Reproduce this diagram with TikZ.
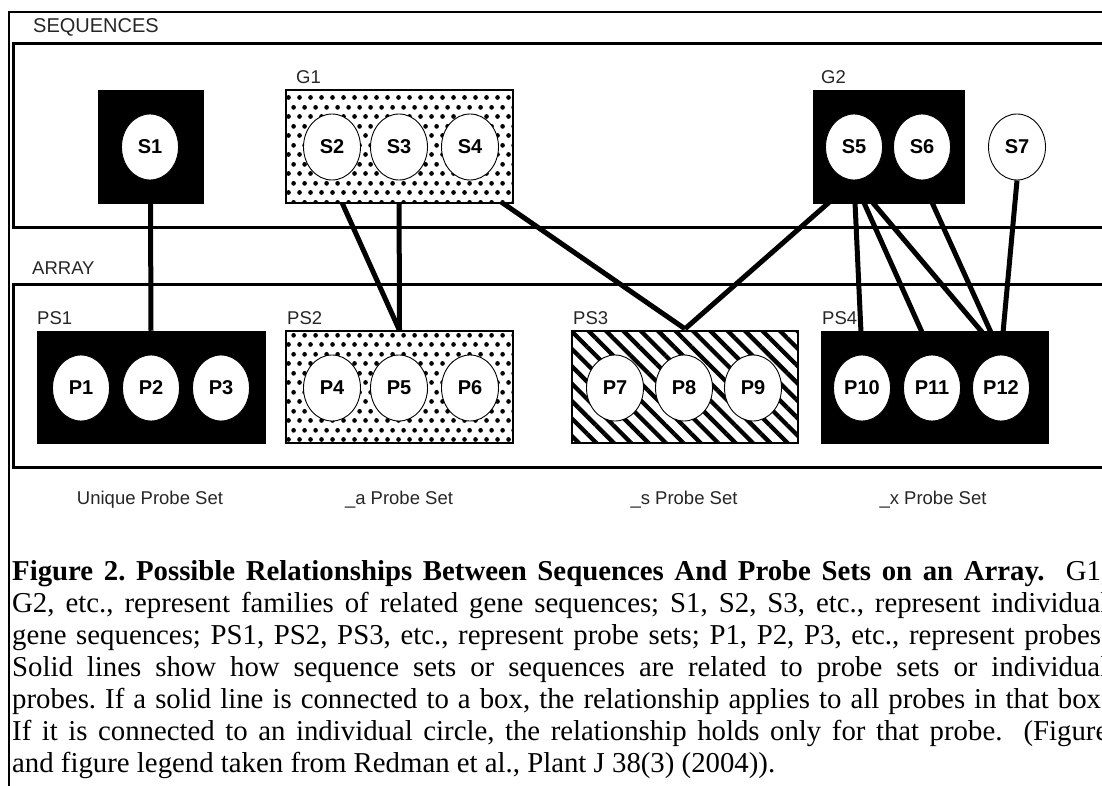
\documentclass[tikz,border=0pt]{standalone}
\usepackage{fontspec}
\setmainfont{Liberation Serif}
\newfontfamily\lblfont{Liberation Sans}
\usetikzlibrary{shapes.geometric,patterns,patterns.meta}
\pgfdeclarelayer{bg}
\pgfdeclarelayer{frame}
\pgfdeclarelayer{links}
\pgfsetlayers{bg,frame,links,main}
\pgfdeclarepatternformonly{stipple}{\pgfqpoint{0pt}{0pt}}{\pgfqpoint{11pt}{19pt}}{\pgfqpoint{11pt}{19pt}}{%
  \pgfpathcircle{\pgfqpoint{2.75pt}{4.75pt}}{2.5pt}%
  \pgfpathcircle{\pgfqpoint{8.25pt}{14.25pt}}{2.5pt}%
  \pgfusepath{fill}}
\tikzset{
  blackbox/.style={rectangle, fill=black, draw=black, line width=0.5, inner sep=0},
  dotbox/.style={rectangle, draw=black, line width=1.2, preaction={fill=white}, pattern=stipple, inner sep=0},
  hatchbox/.style={rectangle, draw=black, line width=1.2, preaction={fill=white}, pattern={Lines[angle=-45,distance=12.3pt,line width=4.3pt]}, inner sep=0},
  seqc/.style={ellipse, draw=black, line width=0.9, fill=white, minimum width=57, minimum height=66, inner sep=0, font=\lblfont\bfseries\fontsize{20}{20}\selectfont},
  link/.style={line width=5},
  grplabel/.style={font=\lblfont\fontsize{18.5}{20}\selectfont, text=black!85, inner sep=0, anchor=west},
  setlabel/.style={font=\lblfont\fontsize{18.5}{20}\selectfont, text=black!85, inner sep=0},
  capline/.style={font=\frenchspacing\fontsize{28.8}{32}\selectfont, inner sep=0, anchor=base west},
  framel/.style={line width=2.8},
  boxl/.style={line width=3.2}
}
\newcommand{\capl}[1]{\makebox[1096pt][s]{#1}}
\begin{document}
\begin{tikzpicture}[x=1pt,y=-1pt]
\useasboundingbox (0,0) rectangle (1102,786);
\begin{pgfonlayer}{bg}
\fill[white] (0,0) rectangle (1102,786);
\end{pgfonlayer}

% frames
\begin{pgfonlayer}{frame}
\draw[framel] (9,800) -- (9,12) -- (1120,12);
\draw[boxl] (1120,43.5) -- (13.5,43.5) -- (13.5,227.5) -- (1120,227.5);
\draw[boxl] (1120,284.5) -- (13.5,284.5) -- (13.5,467.5) -- (1120,467.5);
\end{pgfonlayer}

% section labels
\node[grplabel, font=\lblfont\fontsize{20}{20}\selectfont] (seqlab) at (33,27) {SEQUENCES};
\node[grplabel] (arrlab) at (32,268) {ARRAY};
\node[grplabel] (g1lab) at (296,77) {G1};
\node[grplabel] (g2lab) at (821,77) {G2};
\node[grplabel] (ps1lab) at (37,318) {PS1};
\node[grplabel] (ps2lab) at (287,318) {PS2};
\node[grplabel] (ps3lab) at (573,318) {PS3};
\node[grplabel] (ps4lab) at (822,318) {PS4};

% group boxes
\node[blackbox, minimum width=105, minimum height=113] (S1box) at (150.5,146.5) {};
\node[dotbox, minimum width=227, minimum height=113] (G1box) at (399.5,146.5) {};
\node[blackbox, minimum width=151, minimum height=113] (G2box) at (888.5,146.5) {};
\node[blackbox, minimum width=228, minimum height=112] (PS1) at (151,387) {};
\node[dotbox, minimum width=227, minimum height=112] (PS2) at (399.5,387) {};
\node[hatchbox, minimum width=226, minimum height=112] (PS3) at (685,387) {};
\node[blackbox, minimum width=227, minimum height=112] (PS4) at (934.5,387) {};

% sequences
\node[seqc] (S1) at (150,147) {S1};
\node[seqc] (S2) at (332,147) {S2};
\node[seqc] (S3) at (399,147) {S3};
\node[seqc] (S4) at (470,147) {S4};
\node[seqc] (S5) at (854,147) {S5};
\node[seqc] (S6) at (922,147) {S6};
\node[seqc] (S7) at (1017,147) {S7};

% probes
\node[seqc] (P1) at (81,388) {P1};
\node[seqc] (P2) at (151,388) {P2};
\node[seqc] (P3) at (221,388) {P3};
\node[seqc] (P4) at (332,388) {P4};
\node[seqc] (P5) at (399,388) {P5};
\node[seqc] (P6) at (470,388) {P6};
\node[seqc] (P7) at (615,388) {P7};
\node[seqc] (P8) at (684,388) {P8};
\node[seqc] (P9) at (753,388) {P9};
\node[seqc] (P10) at (862,388) {P10};
\node[seqc] (P11) at (932,388) {P11};
\node[seqc] (P12) at (1001,388) {P12};

% connectors
\begin{pgfonlayer}{links}
\draw[link] (S1box.south) -- (PS1.north);
\draw[link] (S2.south) -- (PS2.north);
\draw[link] (S3.south) -- (PS2.north);
\draw[link] (S4.south) -- (PS3.north);
\draw[link] (S5.south) -- (PS3.north);
\draw[link] (S5.south) -- (P10.north);
\draw[link] (S5.south) -- (P11.north);
\draw[link] (S5.south) -- (P12.north);
\draw[link] (S6.south) -- (P12.north);
\draw[link] (S7.south) -- (P12.north);
\end{pgfonlayer}

% probe set type labels
\node[setlabel] (t1) at (150,500) {Unique Probe Set};
\node[setlabel] (t2) at (399,500) {\_a Probe Set};
\node[setlabel] (t3) at (684,500) {\_s Probe Set};
\node[setlabel] (t4) at (933,500) {\_x Probe Set};

% caption
\node[capline] (c1) at (12,580) {\capl{\textbf{Figure 2. Possible Relationships Between Sequences And Probe Sets on an Array.}\ \ G1,}};
\node[capline] (c2) at (12,612) {\capl{G2, etc., represent families of related gene sequences; S1, S2, S3, etc., represent individual}};
\node[capline] (c3) at (12,644) {\capl{gene sequences; PS1, PS2, PS3, etc., represent probe sets; P1, P2, P3, etc., represent probes.}};
\node[capline] (c4) at (12,676) {\capl{Solid lines show how sequence sets or sequences are related to probe sets or individual}};
\node[capline] (c5) at (12,708) {\capl{probes. If a solid line is connected to a box, the relationship applies to all probes in that box.}};
\node[capline] (c6) at (12,740) {\capl{If it is connected to an individual circle, the relationship holds only for that probe.\ \ (Figure}};
\node[capline] (c7) at (12,772) {and figure legend taken from Redman et al., Plant J 38(3) (2004)).};
\end{tikzpicture}
\end{document}
